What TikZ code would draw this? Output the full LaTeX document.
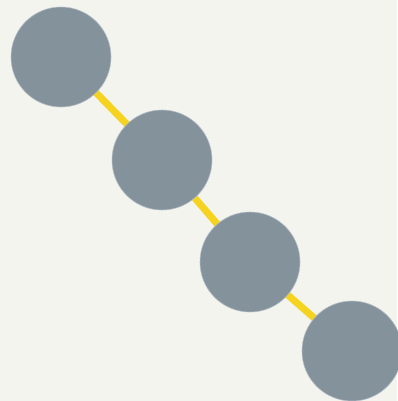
\documentclass[tikz,border=0pt]{standalone}
\usetikzlibrary{positioning}
\definecolor{paper}{HTML}{F4F4EF}
\definecolor{slate}{HTML}{84929C}
\definecolor{rim}{HTML}{B4BDC4}
\definecolor{gold}{HTML}{F5D31F}
\pgfdeclarelayer{bg}
\pgfdeclarelayer{edges}
\pgfsetlayers{bg,edges,main}
\tikzset{
  ball/.style={circle, fill=slate, draw=rim, line width=0.6pt, minimum size=100pt, inner sep=0pt},
  link/.style={gold, line width=7pt}
}
\begin{document}
\begin{tikzpicture}[x=1pt, y=-1pt]
      \begin{pgfonlayer}{bg}
        \fill[paper] (0,0) rectangle (397,401);
      \end{pgfonlayer}
      \useasboundingbox (0,0) rectangle (397,401);

      \node[ball] (b0) at (61,57) {};
      \node[ball] (b1) at (162,160) {};
      \node[ball] (b2) at (250,262) {};
      \node[ball] (b3) at (352,351) {};

      \begin{pgfonlayer}{edges}
        \draw[link] (b0.center) -- (b1.center);
        \draw[link] (b1.center) -- (b2.center);
        \draw[link] (b2.center) -- (b3.center);
      \end{pgfonlayer}
    \end{tikzpicture}
\end{document}
